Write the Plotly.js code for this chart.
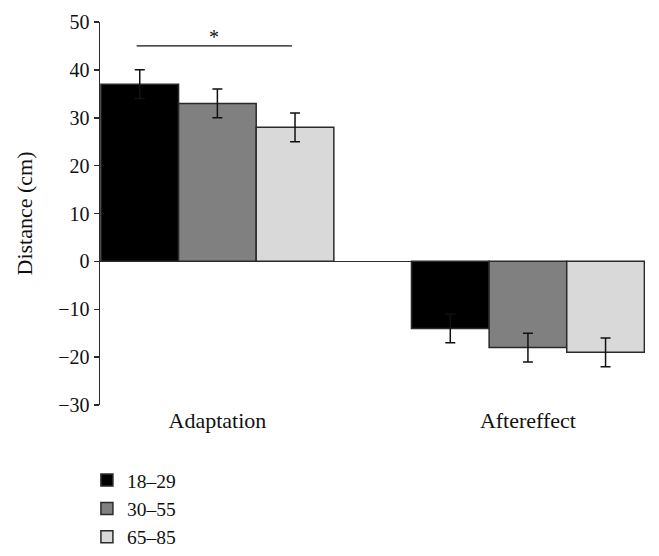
<!DOCTYPE html>
<html>
<head>
<meta charset="utf-8">
<script src="https://cdn.plot.ly/plotly-3.0.1.min.js"></script>
<style>html,body{margin:0;padding:0;background:#fff;}#chart{width:659px;height:556px;}</style>
</head>
<body>
<div id="chart"></div>
<script>
const categories = ["Adaptation", "Aftereffect"];
const groups = ["18–29", "30–55", "65–85"];
const means = [
  [37, -14],
  [33, -18],
  [28, -19]
];
const errors = [
  [3, 3],
  [3, 3],
  [3, 3]
];
const colors = ["#000000", "#808080", "#d9d9d9"];
const yTicks = [-30, -20, -10, 0, 10, 20, 30, 40, 50];
const sigBar = {from: -0.26, to: 0.24, y: 45, label: "*"};

const FONT = "Liberation Serif, Times New Roman, serif";

const traces = groups.map((g, i) => ({
  type: "bar",
  name: g,
  x: categories,
  y: means[i],
  marker: {color: colors[i], line: {color: "#2a2a2a", width: 1.5}},
  error_y: {type: "data", array: errors[i], visible: true, color: "#111", thickness: 1.5, width: 5}
}));

const layout = {
  width: 659,
  height: 556,
  margin: {l: 100, r: 14, t: 22, b: 151, autoexpand: false},
  paper_bgcolor: "#fff",
  plot_bgcolor: "#fff",
  font: {family: FONT, size: 20, color: "#111"},
  barmode: "group",
  bargap: 0.25,
  bargroupgap: 0,
  showlegend: true,
  legend: {
    x: -0.024, y: -0.146, xanchor: "left", yanchor: "top",
    font: {family: FONT, size: 19.5, color: "#111"},
    bgcolor: "rgba(0,0,0,0)", tracegroupgap: 0
  },
  xaxis: {
    type: "category",
    range: [-0.378, 1.377],
    showline: false, showgrid: false, zeroline: false, ticks: "",
    tickfont: {family: FONT, size: 22, color: "#111"}
  },
  yaxis: {
    range: [-30, 50],
    tickvals: yTicks,
    ticktext: yTicks.map(v => v < 0 ? "−" + Math.abs(v) : String(v)),
    showline: true, linecolor: "#2a2a2a", linewidth: 1.5,
    ticks: "outside", ticklen: 5, tickwidth: 1.5, tickcolor: "#2a2a2a",
    showgrid: false,
    zeroline: true, zerolinecolor: "#2a2a2a", zerolinewidth: 1.5,
    tickfont: {family: FONT, size: 20, color: "#111"},
    title: {text: "Distance (cm)", font: {family: FONT, size: 22, color: "#111"}, standoff: 19}
  },
  shapes: [{
    type: "line", xref: "x", yref: "y",
    x0: sigBar.from, x1: sigBar.to, y0: sigBar.y, y1: sigBar.y,
    line: {color: "#111", width: 1.2}
  }],
  annotations: [{
    xref: "x", yref: "y", x: (sigBar.from + sigBar.to) / 2, y: sigBar.y,
    text: sigBar.label, showarrow: false, yanchor: "bottom", yshift: -4,
    font: {family: FONT, size: 20, color: "#111"}
  }]
};

Plotly.newPlot("chart", traces, layout, {displayModeBar: false, staticPlot: true});
</script>
</body>
</html>
